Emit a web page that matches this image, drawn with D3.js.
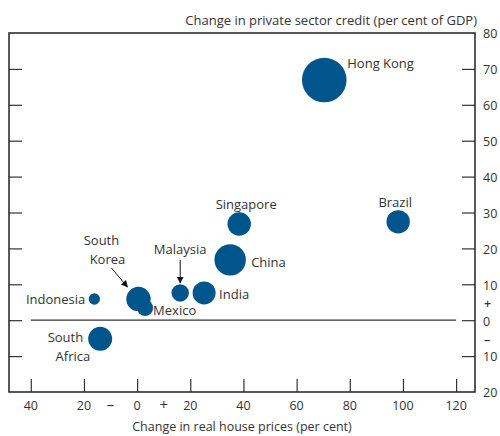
<!DOCTYPE html>
<html>
<head>
<meta charset="utf-8">
<script src="https://cdn.jsdelivr.net/npm/d3@7/dist/d3.min.js"></script>
<style>
  html, body { margin: 0; padding: 0; background: #fff; }
  svg text { font-family: "Open Sans", Lato, sans-serif; fill: #333; }
</style>
</head>
<body>
<div id="chart"></div>
<script>
// Economies plotted, with change in real house prices (x, per cent),
// change in private sector credit (y, per cent of GDP) and bubble weight.
const economies = ["Hong Kong", "Brazil", "Singapore", "China", "India",
                   "Malaysia", "South Korea", "Mexico", "Indonesia", "South Africa"];
const housePriceChange = [70.4, 98.2, 38.4, 35.0, 25.2, 16.2, 0.5, 3.0, -16.1, -13.9];
const creditChange     = [66.9, 27.4, 26.8, 16.8, 7.6, 7.6, 5.9, 3.4, 5.9, -5.2];
const bubbleWeight     = [497, 137, 137, 246, 132, 76, 149, 64, 32, 144];

const xTicks = [-40, -20, 0, 20, 40, 60, 80, 100, 120];
const yTicks = [-20, -10, 0, 10, 20, 30, 40, 50, 60, 70, 80];

const W = 500, H = 436;
const frame = { left: 9, right: 475, top: 33, bottom: 392 };

const svg = d3.select("#chart").append("svg")
  .attr("width", W).attr("height", H);

const x = d3.scaleLinear().domain([-48.2, 127.1]).range([frame.left, frame.right]);
const y = d3.scaleLinear().domain([-20, 80]).range([frame.bottom, frame.top]);
const r = d3.scaleSqrt().domain([0, 497]).range([0, 22.3]);

svg.append("defs").append("marker")
  .attr("id", "arrow").attr("viewBox", "0 0 10 10")
  .attr("refX", 9).attr("refY", 5)
  .attr("markerWidth", 7).attr("markerHeight", 7)
  .attr("markerUnits", "userSpaceOnUse")
  .attr("orient", "auto")
  .append("path").attr("d", "M0,0 L10,5 L0,10 z").attr("fill", "#111");

// Zero line, spanning the labelled x range
svg.append("line")
  .attr("x1", x(-40)).attr("x2", x(120))
  .attr("y1", y(0)).attr("y2", y(0))
  .attr("stroke", "#333").attr("stroke-width", 1.2);

// Inward ticks on the frame
const tickLen = 13;
const xAxis = d3.axisBottom(x).tickValues(xTicks).tickSize(-tickLen).tickFormat("");
svg.append("g").attr("transform", `translate(0,${frame.bottom})`).call(xAxis)
  .call(g => g.select(".domain").remove())
  .selectAll("line").attr("stroke", "#333").attr("stroke-width", 1.2);

const innerY = yTicks.filter(v => v > -20 && v < 80);
const yLeft = d3.axisLeft(y).tickValues(innerY).tickSize(-tickLen).tickFormat("");
svg.append("g").attr("transform", `translate(${frame.left},0)`).call(yLeft)
  .call(g => g.select(".domain").remove())
  .selectAll("line").attr("stroke", "#333").attr("stroke-width", 1.2);

const yRight = d3.axisRight(y).tickValues(innerY).tickSize(-tickLen).tickFormat("");
svg.append("g").attr("transform", `translate(${frame.right},0)`).call(yRight)
  .call(g => g.select(".domain").remove())
  .selectAll("line").attr("stroke", "#333").attr("stroke-width", 1.2);

// Frame
svg.append("rect")
  .attr("x", frame.left).attr("y", frame.top)
  .attr("width", frame.right - frame.left).attr("height", frame.bottom - frame.top)
  .attr("fill", "none").attr("stroke", "#222").attr("stroke-width", 1.5);

// Tick labels: magnitudes only, with signs placed between
const fontSize = 12.5;
const labelSize = 13;
const signSize = 15;
const sideSignSize = 12.5;
svg.append("g").selectAll("text").data(xTicks).join("text")
  .attr("x", d => x(d)).attr("y", 406).attr("dy", "0.35em")
  .attr("text-anchor", "middle").attr("font-size", fontSize)
  .text(d => Math.abs(d));
svg.append("text").attr("x", x(-10)).attr("y", 405).attr("dy", "0.35em")
  .attr("text-anchor", "middle").attr("font-size", signSize).text("–");
svg.append("text").attr("x", x(10)).attr("y", 405).attr("dy", "0.35em")
  .attr("text-anchor", "middle").attr("font-size", signSize).text("+");

svg.append("g").selectAll("text").data(yTicks).join("text")
  .attr("x", 483).attr("y", d => y(d) + 1).attr("dy", "0.35em")
  .attr("text-anchor", "start").attr("font-size", fontSize)
  .text(d => Math.abs(d));
svg.append("text").attr("x", 484).attr("y", y(5) + 1).attr("dy", "0.35em")
  .attr("font-size", sideSignSize).attr("font-weight", 600).text("+");
svg.append("text").attr("x", 484).attr("y", y(-5) + 1).attr("dy", "0.35em")
  .attr("font-size", sideSignSize).attr("font-weight", 600).text("–");

// Axis titles
svg.append("text").attr("x", 477).attr("y", 20).attr("dy", "0.35em")
  .attr("text-anchor", "end").attr("font-size", labelSize)
  .text("Change in private sector credit (per cent of GDP)");
svg.append("text").attr("x", 242).attr("y", 427).attr("dy", "0.35em")
  .attr("text-anchor", "middle").attr("font-size", fontSize)
  .text("Change in real house prices (per cent)");

// Bubbles
const rows = economies.map((name, i) => ({
  name, hx: housePriceChange[i], cy: creditChange[i], w: bubbleWeight[i]
}));
// Draw large bubbles first so small ones stay visible on top
const drawOrder = rows.slice().sort((a, b) => b.w - a.w);
svg.append("g").selectAll("circle").data(drawOrder).join("circle")
  .attr("cx", d => x(d.hx)).attr("cy", d => y(d.cy)).attr("r", d => r(d.w))
  .attr("fill", "#00568c");

// Label placement relative to each bubble centre: [dx, dy, anchor, text]
const labelPlacement = {
  "Hong Kong":   [[23, -17, "start", "Hong Kong"]],
  "Brazil":      [[-3, -19, "middle", "Brazil"]],
  "Singapore":   [[7, -20, "middle", "Singapore"]],
  "China":       [[21, 3, "start", "China"]],
  "India":       [[15, 2, "start", "India"]],
  "Malaysia":    [[0, -43, "middle", "Malaysia"]],
  "South Korea": [[-37, -59, "middle", "South"], [-31, -40, "middle", "Korea"]],
  "Mexico":      [[8, 2.5, "start", "Mexico"]],
  "Indonesia":   [[-9, 0, "end", "Indonesia"]],
  "South Africa":[[-17, -1, "end", "South"], [-10, 18, "end", "Africa"]]
};
const labels = svg.append("g");
rows.forEach(d => {
  (labelPlacement[d.name] || []).forEach(([dx, dy, anchor, txt]) => {
    labels.append("text")
      .attr("x", x(d.hx) + dx).attr("y", y(d.cy) + dy).attr("dy", "0.35em")
      .attr("text-anchor", anchor).attr("font-size", labelSize)
      .text(txt);
  });
});

// Pointer arrows for crowded labels: [from dx, from dy, to dx, to dy]
const pointers = { "South Korea": [-27, -31, -11, -12], "Malaysia": [0, -33, 0, -10] };
rows.filter(d => pointers[d.name]).forEach(d => {
  const [fx, fy, tx, ty] = pointers[d.name];
  svg.append("line")
    .attr("x1", x(d.hx) + fx).attr("y1", y(d.cy) + fy)
    .attr("x2", x(d.hx) + tx).attr("y2", y(d.cy) + ty)
    .attr("stroke", "#111").attr("stroke-width", 1)
    .attr("marker-end", "url(#arrow)");
});
</script>
</body>
</html>
